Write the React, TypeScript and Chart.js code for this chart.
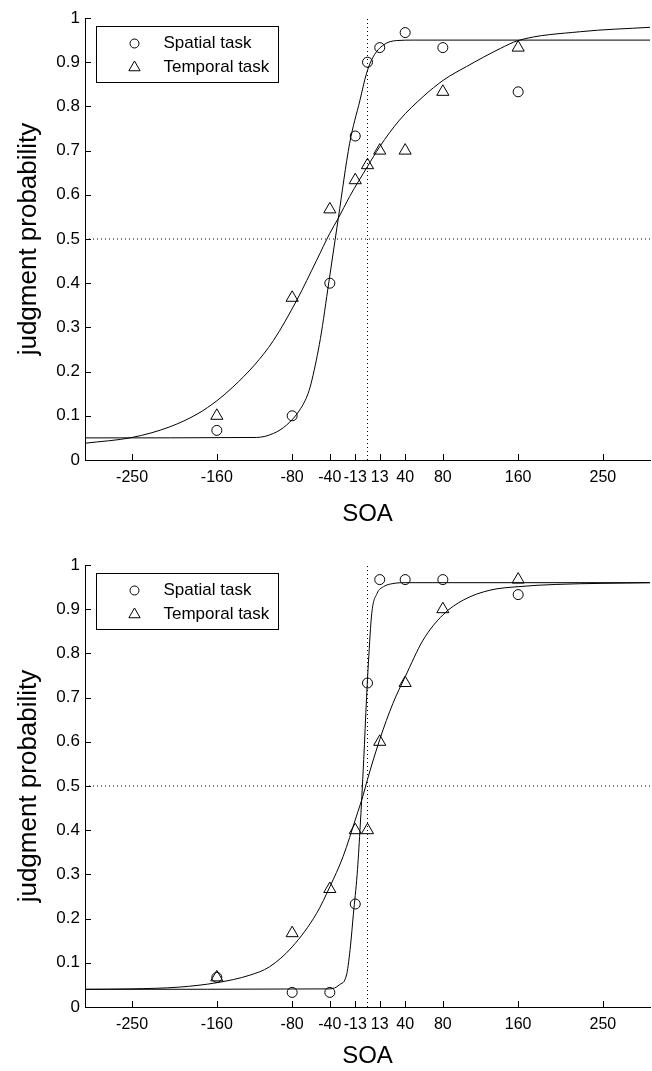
import React, { useEffect, useRef } from 'react';
import { Chart, registerables } from 'chart.js';

Chart.register(...registerables);

// ---------- data ----------
const soaValues = [-160, -80, -40, -13, 0, 13, 40, 80, 160];

const spatialTop = [0.067, 0.1, 0.4, 0.733, 0.9, 0.933, 0.967, 0.933, 0.833];
const temporalTop = [0.1, 0.367, 0.567, 0.633, 0.667, 0.7, 0.7, 0.833, 0.933];

const spatialBottom = [0.067, 0.033, 0.033, 0.233, 0.733, 0.967, 0.967, 0.967, 0.933];
const temporalBottom = [0.067, 0.167, 0.267, 0.4, 0.4, 0.6, 0.733, 0.9, 0.967];

// fitted curves
const spatialFitTopX = [-300, -118, -100, -86, -72, -63, -59, -50, -41, -31, -19, -8, -1, 6, 17, 31, 50, 300];
const spatialFitTopY = [0.05, 0.051, 0.06, 0.079, 0.113, 0.151, 0.181, 0.275, 0.403, 0.547, 0.716, 0.814, 0.875, 0.912, 0.939, 0.949, 0.95, 0.95];

const temporalFitTopX = [-300, -250, -210, -180, -160, -143, -120, -100, -75, -54, -40, -31, -19, 0, 13, 34, 59, 81, 105, 141, 160, 226, 300];
const temporalFitTopY = [0.038, 0.051, 0.075, 0.105, 0.134, 0.165, 0.215, 0.27, 0.362, 0.452, 0.513, 0.547, 0.596, 0.664, 0.709, 0.769, 0.822, 0.86, 0.89, 0.931, 0.949, 0.969, 0.979];

const spatialFitBottomX = [-300, -40, -30, -22, -18, -15, -11, -8, -4, -1, 1, 4.5, 10, 17, 27, 40, 300];
const spatialFitBottomY = [0.04, 0.041, 0.05, 0.075, 0.14, 0.21, 0.3, 0.4, 0.56, 0.7, 0.78, 0.89, 0.935, 0.951, 0.958, 0.96, 0.96];

const temporalFitBottomX = [-300, -250, -200, -160, -125, -104, -80, -54, -40, -26, -12, -4.5, 0, 13, 27, 40, 59, 80, 102, 130, 160, 200, 300];
const temporalFitBottomY = [0.04, 0.041, 0.045, 0.055, 0.072, 0.091, 0.136, 0.212, 0.272, 0.34, 0.43, 0.48, 0.515, 0.605, 0.687, 0.747, 0.83, 0.887, 0.921, 0.943, 0.951, 0.956, 0.96];

const xTickValues = [-250, -160, -80, -40, -13, 13, 40, 80, 160, 250];
const yTickValues = [0, 0.1, 0.2, 0.3, 0.4, 0.5, 0.6, 0.7, 0.8, 0.9, 1];
const yTickLabels = ['0', '0.1', '0.2', '0.3', '0.4', '0.5', '0.6', '0.7', '0.8', '0.9', '1'];

const legendLabels = ['Spatial task', 'Temporal task'];
const xTitle = 'SOA';
const yTitle = 'judgment probability';

// ---------- styling ----------
const FONT = "'Liberation Sans', Arial, Helvetica, sans-serif";
const W = 652;

function pts(xs: number[], ys: number[]) {
  return xs.map((x, i) => ({ x, y: ys[i] }));
}

const inwardTicks = {
  id: 'inwardTicks',
  afterDatasetsDraw(chart: any) {
    const { ctx, chartArea, scales } = chart;
    const x = scales.x;
    const y = scales.y;
    ctx.save();
    ctx.strokeStyle = '#000';
    ctx.lineWidth = 1;
    ctx.beginPath();
    x.ticks.forEach((t: any) => {
      const px = Math.round(x.getPixelForValue(t.value)) + 0.5;
      ctx.moveTo(px, chartArea.bottom);
      ctx.lineTo(px, chartArea.bottom - 6);
    });
    y.ticks.forEach((t: any) => {
      const py = Math.round(y.getPixelForValue(t.value)) + 0.5;
      ctx.moveTo(chartArea.left, py);
      ctx.lineTo(chartArea.left + 6, py);
    });
    ctx.stroke();
    ctx.restore();
  },
};

const boxLegend = {
  id: 'boxLegend',
  afterDraw(chart: any) {
    const { ctx, chartArea } = chart;
    const bx = Math.round(chartArea.left + 11) + 0.5;
    const by = Math.round(chartArea.top + 8) + 0.5;
    const bw = 182;
    const bh = 56;
    ctx.save();
    ctx.fillStyle = '#fff';
    ctx.fillRect(bx, by, bw, bh);
    ctx.strokeStyle = '#000';
    ctx.lineWidth = 1;
    ctx.strokeRect(bx, by, bw, bh);
    const mx = bx + 38;
    const rows = [by + 17, by + 41];
    ctx.beginPath();
    ctx.arc(mx, rows[0], 4.5, 0, Math.PI * 2);
    ctx.stroke();
    const r = 6.5;
    ctx.beginPath();
    ctx.moveTo(mx, rows[1] - r);
    ctx.lineTo(mx + r * Math.sin((2 * Math.PI) / 3), rows[1] - r * Math.cos((2 * Math.PI) / 3));
    ctx.lineTo(mx - r * Math.sin((2 * Math.PI) / 3), rows[1] - r * Math.cos((2 * Math.PI) / 3));
    ctx.closePath();
    ctx.stroke();
    ctx.fillStyle = '#000';
    ctx.font = `17px ${FONT}`;
    ctx.textBaseline = 'middle';
    ctx.textAlign = 'left';
    ctx.fillText(legendLabels[0], bx + 67, rows[0]);
    ctx.fillText(legendLabels[1], bx + 67, rows[1]);
    ctx.restore();
  },
};

type PanelProps = {
  spatial: number[];
  temporal: number[];
  spatialFitX: number[];
  spatialFitY: number[];
  temporalFitX: number[];
  temporalFitY: number[];
  height: number;
  top: number;
  titlePad: number;
};

function Panel(p: PanelProps) {
  const ref = useRef<HTMLCanvasElement>(null);
  useEffect(() => {
    if (!ref.current) return;
    const chart = new Chart(ref.current, {
      type: 'scatter',
      data: {
        datasets: [
          {
            label: 'h',
            data: [{ x: -300, y: 0.5 }, { x: 300, y: 0.5 }],
            showLine: true,
            borderColor: '#000',
            borderWidth: 1,
            borderDash: [1, 3],
            pointRadius: 0,
          },
          {
            label: 'v',
            data: [{ x: 0, y: 0 }, { x: 0, y: 1 }],
            showLine: true,
            borderColor: '#000',
            borderWidth: 1,
            borderDash: [1, 3],
            pointRadius: 0,
          },
          {
            label: 'spatial fit',
            data: pts(p.spatialFitX, p.spatialFitY),
            showLine: true,
            borderColor: '#000',
            borderWidth: 1,
            pointRadius: 0,
            cubicInterpolationMode: 'monotone',
          },
          {
            label: 'temporal fit',
            data: pts(p.temporalFitX, p.temporalFitY),
            showLine: true,
            borderColor: '#000',
            borderWidth: 1,
            pointRadius: 0,
            cubicInterpolationMode: 'monotone',
          },
          {
            label: legendLabels[0],
            data: pts(soaValues, p.spatial),
            showLine: false,
            pointStyle: 'circle',
            pointRadius: 5,
            pointBorderWidth: 1,
            pointBorderColor: '#000',
            pointBackgroundColor: 'rgba(0,0,0,0)',
          },
          {
            label: legendLabels[1],
            data: pts(soaValues, p.temporal),
            showLine: false,
            pointStyle: 'triangle',
            pointRadius: 7,
            pointBorderWidth: 1,
            pointBorderColor: '#000',
            pointBackgroundColor: 'rgba(0,0,0,0)',
          },
        ],
      } as any,
      options: {
        animation: false,
        responsive: false,
        devicePixelRatio: 1,
        layout: { autoPadding: false, padding: { left: 0, top: 18, right: 2, bottom: 0 } },
        plugins: { legend: { display: false }, tooltip: { enabled: false } },
        scales: {
          x: {
            type: 'linear',
            min: -300,
            max: 300,
            afterBuildTicks: (s: any) => {
              s.ticks = xTickValues.map((v) => ({ value: v }));
            },
            afterFit: (s: any) => {
              s.height = p.height - 460;
              s.paddingLeft = 0;
              s.paddingRight = 0;
            },
            ticks: {
              autoSkip: false,
              maxRotation: 0,
              minRotation: 0,
              padding: 8,
              color: '#000',
              font: { family: FONT, size: 16 },
              callback: (v: any) => String(v),
            },
            grid: { display: false, drawTicks: false },
            border: { display: true, color: '#000', width: 1 },
            title: {
              display: true,
              text: xTitle,
              color: '#000',
              font: { family: FONT, size: 24 },
              padding: { top: 0, bottom: p.titlePad },
            },
          },
          y: {
            type: 'linear',
            min: 0,
            max: 1,
            afterBuildTicks: (s: any) => {
              s.ticks = yTickValues.map((v) => ({ value: v }));
            },
            afterFit: (s: any) => {
              s.width = 85;
              s.paddingTop = 0;
              s.paddingBottom = 0;
            },
            ticks: {
              autoSkip: false,
              padding: 5,
              color: '#000',
              font: { family: FONT, size: 17 },
              callback: (v: any) => {
                const i = yTickValues.findIndex((t) => Math.abs(t - v) < 1e-9);
                return i >= 0 ? yTickLabels[i] : '';
              },
            },
            grid: { display: false, drawTicks: false },
            border: { display: true, color: '#000', width: 1 },
            title: {
              display: true,
              text: yTitle,
              color: '#000',
              font: { family: FONT, size: 26 },
              padding: { top: 13, bottom: 0 },
            },
          },
        },
      } as any,
      plugins: [inwardTicks, boxLegend],
    });
    return () => chart.destroy();
  }, []);
  return (
    <canvas
      ref={ref}
      width={W}
      height={p.height}
      style={{ position: 'absolute', left: 0, top: p.top, width: W, height: p.height, display: 'block' }}
    />
  );
}

export default function App() {
  return (
    <div style={{ position: 'absolute', left: 0, top: 0, width: W, height: 1071, background: '#fff' }}>
      <Panel
        spatial={spatialTop}
        temporal={temporalTop}
        spatialFitX={spatialFitTopX}
        spatialFitY={spatialFitTopY}
        temporalFitX={temporalFitTopX}
        temporalFitY={temporalFitTopY}
        height={547}
        top={0}
        titlePad={18}
      />
      <Panel
        spatial={spatialBottom}
        temporal={temporalBottom}
        spatialFitX={spatialFitBottomX}
        spatialFitY={spatialFitBottomY}
        temporalFitX={temporalFitBottomX}
        temporalFitY={temporalFitBottomY}
        height={524}
        top={547}
        titlePad={0}
      />
    </div>
  );
}
